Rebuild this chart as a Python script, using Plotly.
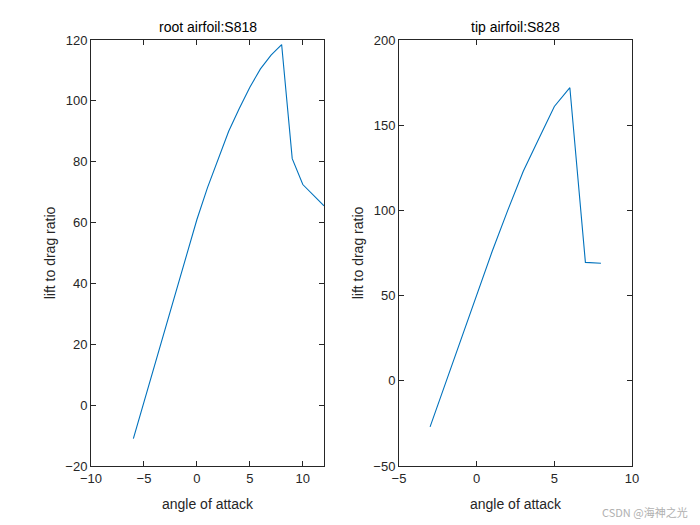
import plotly.graph_objects as go

# root airfoil S818
root_alpha = [-6, -5, -4, -3, -2, -1, 0, 1, 2, 3, 4, 5, 6, 7, 8, 9, 10, 11, 12]
root_ld = [-11, 1, 13, 25.5, 37.5, 49.5, 61, 71.5, 81, 90, 97.5, 104.5, 110.5, 115, 118.5, 81, 72.5, 69, 65.5]

# tip airfoil S828
tip_alpha = [-3, -2, -1, 0, 1, 2, 3, 4, 5, 6, 7, 8]
tip_ld = [-27, -1.5, 24.5, 50, 76, 100, 123, 142, 161, 172, 69.5, 69]

# page body adds an 8px offset; size the figure to fit the 700x525 window
OFF = 8
W, H = 700 - OFF, 525 - OFF
LINE = "#0072BD"
AX = "#262626"
FONT = "Liberation Sans, Arial, Helvetica, sans-serif"


def xd(a, b):
    return [(a - OFF) / W, (b - OFF) / W]


def yd(top, bottom):
    return [(H - (bottom - OFF)) / H, (H - (top - OFF)) / H]


fig = go.Figure()
fig.add_trace(go.Scatter(x=root_alpha, y=root_ld, mode="lines",
                         line=dict(color=LINE, width=1.1), xaxis="x", yaxis="y",
                         showlegend=False))
fig.add_trace(go.Scatter(x=tip_alpha, y=tip_ld, mode="lines",
                         line=dict(color=LINE, width=1.1), xaxis="x2", yaxis="y2",
                         showlegend=False))

ydom = yd(40, 466)
common = dict(showline=True, mirror="ticks", linecolor=AX, linewidth=1,
              ticks="inside", ticklen=5, tickcolor=AX, tickwidth=1,
              showgrid=False, zeroline=False, automargin=False,
              tickfont=dict(family=FONT, size=13, color=AX))
title_font = dict(family=FONT, size=14, color=AX)

fig.update_layout(
    width=W, height=H,
    margin=dict(l=0, r=0, t=0, b=0, autoexpand=False),
    paper_bgcolor="white", plot_bgcolor="white",
    font=dict(family=FONT, color=AX),
    xaxis=dict(domain=xd(91, 324), range=[-10, 12], dtick=5, tick0=0,
               title=dict(text="angle of attack", font=title_font, standoff=14),
               anchor="y", **common),
    yaxis=dict(domain=ydom, range=[-20, 120], dtick=20, tick0=0,
               title=dict(text="lift to drag ratio", font=title_font, standoff=6),
               anchor="x", **common),
    xaxis2=dict(domain=xd(399, 632), range=[-5, 10], dtick=5, tick0=0,
                title=dict(text="angle of attack", font=title_font, standoff=14),
                anchor="y2", **common),
    yaxis2=dict(domain=ydom, range=[-50, 200], dtick=50, tick0=0,
                title=dict(text="lift to drag ratio", font=title_font, standoff=6),
                anchor="x2", **common),
    annotations=[
        dict(text="root airfoil:S818", x=0.5, y=1, xref="x domain", yref="y domain",
             xanchor="center", yanchor="bottom", yshift=3, showarrow=False,
             font=dict(family=FONT, size=14, color="black")),
        dict(text="tip airfoil:S828", x=0.5, y=1, xref="x2 domain", yref="y2 domain",
             xanchor="center", yanchor="bottom", yshift=3, showarrow=False,
             font=dict(family=FONT, size=14, color="black")),
        dict(text="CSDN @海神之光", x=(690 - OFF) / W, y=(H - (512 - OFF)) / H,
             xref="paper", yref="paper",
             xanchor="right", yanchor="middle", showarrow=False,
             font=dict(family="Noto Sans CJK SC, sans-serif", size=11, color="#b0b0b0")),
    ],
)

fig.write_html("out.html")
